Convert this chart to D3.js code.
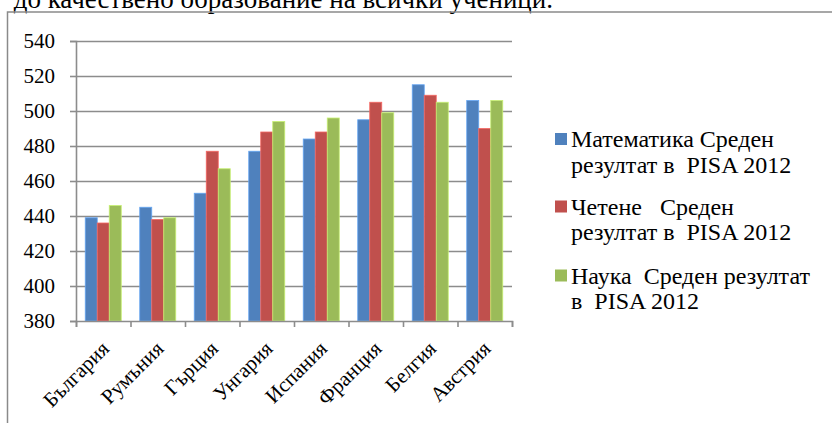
<!DOCTYPE html>
<html>
<head>
<meta charset="utf-8">
<script src="https://cdn.jsdelivr.net/npm/d3@7/dist/d3.min.js"></script>
<style>
  html, body { margin: 0; padding: 0; background: #ffffff; }
  svg { display: block; }
  text { font-family: "Liberation Serif", "Times New Roman", serif; fill: #000; }
</style>
</head>
<body>
<svg id="chart" width="832" height="423"></svg>
<script>
// PISA 2012 mean scores by country
const countries = ["България", "Румъния", "Гърция", "Унгария", "Испания", "Франция", "Белгия", "Австрия"];
const seriesNames = [
  ["Математика Среден", "резултат в  PISA 2012"],
  ["Четене   Среден", "резултат в  PISA 2012"],
  ["Наука  Среден резултат", "в  PISA 2012"]
];
const math    = [439, 445, 453, 477, 484, 495, 515, 506];
const reading = [436, 438, 477, 488, 488, 505, 509, 490];
const science = [446, 439, 467, 494, 496, 499, 505, 506];
const yTicks = [380, 400, 420, 440, 460, 480, 500, 520, 540];
const colors = ["#4F81BD", "#C0504D", "#9BBB59"];
const headingText = "до качествено образование на всички ученици.";

const series = [math, reading, science];
const svg = d3.select("#chart");
const serif = "'Liberation Serif', 'Times New Roman', serif";

// Text line running above the chart frame
svg.append("text")
  .attr("x", 553).attr("y", 8)
  .attr("text-anchor", "end")
  .style("font-size", "27px")
  .style("font-family", serif)
  .text(headingText);

// Chart frame
svg.append("rect")
  .attr("x", 7.5).attr("y", 12)
  .attr("width", 840).attr("height", 430)
  .attr("fill", "none")
  .attr("stroke", "#8a8a8a")
  .attr("stroke-width", 1.5);

const plot = { left: 76, right: 512, top: 41, bottom: 321 };

const x = d3.scaleBand()
  .domain(countries)
  .range([plot.left, plot.right])
  .padding(0);

const xs = d3.scaleBand()
  .domain(d3.range(series.length))
  .range([0, x.bandwidth()])
  .paddingInner(0)
  .paddingOuter(0.77);

const y = d3.scaleLinear()
  .domain([380, 540])
  .range([plot.bottom, plot.top]);

// Horizontal gridlines
const grid = svg.append("g")
  .attr("transform", `translate(${plot.left},0)`)
  .call(d3.axisLeft(y).tickValues(yTicks.slice(1)).tickSize(-(plot.right - plot.left)).tickFormat(""));
grid.select(".domain").remove();
grid.selectAll("line").attr("stroke", "#8c8c8c").attr("stroke-width", 1.6);

// Bars
const groups = svg.append("g").selectAll("g")
  .data(countries)
  .join("g")
  .attr("transform", d => `translate(${x(d)},0)`);

groups.selectAll("rect")
  .data((c, i) => series.map((s, k) => ({ k, v: s[i] })))
  .join("rect")
  .attr("x", d => xs(d.k))
  .attr("y", d => y(d.v))
  .attr("width", xs.bandwidth())
  .attr("height", d => y(380) - y(d.v))
  .attr("fill", d => colors[d.k])
  .attr("stroke", d => d3.color(colors[d.k]).brighter(0.7))
  .attr("stroke-width", 0.8);

// Y axis: line, outer ticks and labels
const yAxis = svg.append("g")
  .attr("transform", `translate(${plot.left},0)`)
  .call(d3.axisLeft(y).tickValues(yTicks).tickSize(6).tickPadding(15).tickFormat(d3.format("d")));
yAxis.select(".domain").attr("stroke", "#8c8c8c").attr("stroke-width", 1.6);
yAxis.selectAll("line").attr("stroke", "#8c8c8c").attr("stroke-width", 1.6);
yAxis.selectAll("text")
  .style("font-size", "21px")
  .style("font-family", serif)
  .attr("fill", "#000");

// X axis: baseline with tick marks at category boundaries
const boundaries = countries.map(c => x(c)).concat([x.range()[1]]);
const xLine = d3.scaleLinear().domain([plot.left, plot.right]).range([plot.left, plot.right]);
const xAxis = svg.append("g")
  .attr("transform", `translate(0,${plot.bottom})`)
  .call(d3.axisBottom(xLine).tickValues(boundaries).tickSize(6).tickFormat(""));
xAxis.select(".domain").attr("stroke", "#8c8c8c").attr("stroke-width", 1.6);
xAxis.selectAll("line").attr("stroke", "#8c8c8c").attr("stroke-width", 1.6);

// Rotated category labels
svg.append("g").selectAll("text")
  .data(countries)
  .join("text")
  .attr("transform", d => `translate(${x(d) + x.bandwidth() / 2 + 7},${plot.bottom + 29}) rotate(-45)`)
  .attr("text-anchor", "end")
  .style("font-size", "21px")
  .style("font-family", serif)
  .text(d => d);

// Legend
const legendBase = [147, 214.5, 283.5];
const legend = svg.append("g").selectAll("g")
  .data(seriesNames)
  .join("g");
legend.append("rect")
  .attr("x", 555)
  .attr("y", (d, i) => legendBase[i] - 14)
  .attr("width", 12).attr("height", 12)
  .attr("fill", (d, i) => colors[i]);
legend.append("text")
  .attr("x", 571)
  .attr("y", (d, i) => legendBase[i])
  .style("font-size", "24px")
  .style("font-family", serif)
  .style("white-space", "pre")
  .attr("xml:space", "preserve")
  .selectAll("tspan")
  .data(d => d)
  .join("tspan")
  .attr("x", 571)
  .attr("dy", (d, j) => j === 0 ? 0 : 25.5)
  .text(d => d);
</script>
</body>
</html>
